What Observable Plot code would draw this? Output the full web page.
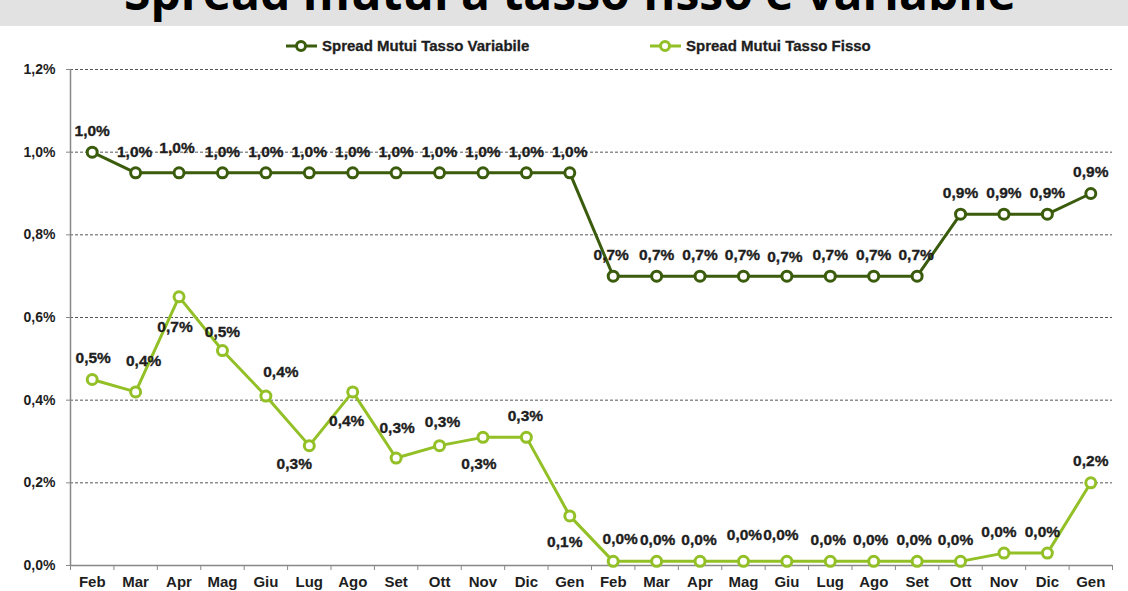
<!DOCTYPE html>
<html>
<head>
<meta charset="utf-8">
<script src="https://cdn.jsdelivr.net/npm/d3@7"></script>
<script src="https://cdn.jsdelivr.net/npm/@observablehq/plot@0.6"></script>
<style>
  body { margin: 0; background: #fff; width: 1128px; overflow: hidden; }
  svg { display: block; }
  .txt { font-family: "Liberation Sans", Arial, sans-serif; font-weight: bold; }
</style>
</head>
<body>
<div id="title"></div>
<div id="legend"></div>
<div id="chart"></div>
<script>
// ---- data ----
const months = ["Feb","Mar","Apr","Mag","Giu","Lug","Ago","Set","Ott","Nov","Dic","Gen",
                "Feb","Mar","Apr","Mag","Giu","Lug","Ago","Set","Ott","Nov","Dic","Gen"];
const variabile = [1.00,0.95,0.95,0.95,0.95,0.95,0.95,0.95,0.95,0.95,0.95,0.95,
                   0.70,0.70,0.70,0.70,0.70,0.70,0.70,0.70,0.85,0.85,0.85,0.90];
const fisso = [0.45,0.42,0.65,0.52,0.41,0.29,0.42,0.26,0.29,0.31,0.31,0.12,
               0.01,0.01,0.01,0.01,0.01,0.01,0.01,0.01,0.01,0.03,0.03,0.20];
const yTicks = [0, 0.2, 0.4, 0.6, 0.8, 1.0, 1.2];
const seriesNames = ["Spread Mutui Tasso Variabile", "Spread Mutui Tasso Fisso"];
const titleText = "Spread mutui a tasso fisso e variabile";

// label placement (pixel offsets from each point)
const varDx = [0,-1,-2,0,0,0,0,0,0,0,0,0, -2,0,0,-1,-2,0,0,-1,0,0,0,0];
const varDy = [-21,-21,-25,-21,-21,-21,-21,-21,-21,-21,-21,-21, -21,-21,-21,-21,-19,-21,-21,-21,-21,-21,-21,-21];
const fisDx = [1,8,-4,0,15,-15,-6,1,3,-4,-1,-5, 7,1,-1,1,-6,-2,-3,-3,-5,-5,-5,0];
const fisDy = [-21,-31,30,-19,-24,18,29,-30,-24,27,-21,26, -22,-21,-21,-26,-26,-21,-21,-21,-21,-21,-21,-22];

const darkGreen = "#3a5c0c";
const lightGreen = "#92c026";
const fmt = v => (Math.round(v * 10) / 10).toFixed(1).replace(".", ",") + "%";

// ---- title ----
const W = 1128;
d3.select("#title").append("svg").attr("width", W).attr("height", 26)
  .call(s => s.append("rect").attr("width", W).attr("height", 26).attr("fill", "#e2e2e2"))
  .append("text").attr("x", 570).attr("y", 10).attr("text-anchor", "middle")
  .attr("font-family", "'Open Sans', sans-serif").attr("font-weight", "bold")
  .attr("font-size", 48).attr("fill", "#000").text(titleText);

// ---- legend ----
const leg = d3.select("#legend").append("svg").attr("width", W).attr("height", 31);
[[301, darkGreen, seriesNames[0]], [665, lightGreen, seriesNames[1]]].forEach(([cx, c, name]) => {
  leg.append("line").attr("x1", cx - 15).attr("x2", cx + 16).attr("y1", 20).attr("y2", 20)
    .attr("stroke", c).attr("stroke-width", 3);
  leg.append("circle").attr("cx", cx).attr("cy", 20).attr("r", 4.5).attr("fill", "#fff")
    .attr("stroke", c).attr("stroke-width", 3);
  leg.append("text").attr("class", "txt").attr("x", cx + 21).attr("y", 25)
    .attr("font-size", 15).attr("fill", "#1e1e1e").attr("stroke", "#1e1e1e").attr("stroke-width", 0.3)
    .text(name);
});

// ---- chart ----
const varRows = variabile.map((v, i) => ({i, v, dx: varDx[i], dy: varDy[i]}));
const fisRows = fisso.map((v, i) => ({i, v, dx: fisDx[i], dy: fisDy[i]}));
const n = months.length;
const boundaries = d3.range(n + 1).map(i => i - 0.5);

const labelMarks = (rows) => rows.map(r => Plot.text([r], {
  x: "i", y: "v", text: d => fmt(d.v), dx: r.dx, dy: r.dy,
  fontSize: 15.5, fontWeight: "bold", fill: "#1e1e1e", stroke: "#1e1e1e", strokeWidth: 0.35
}));

const chart = Plot.plot({
  width: W,
  height: 534,
  marginTop: 12,
  marginBottom: 26,
  marginLeft: 70,
  marginRight: 16,
  style: {fontFamily: "'Liberation Sans', Arial, sans-serif", background: "#fff", overflow: "visible"},
  x: {type: "linear", domain: [-0.5, n - 0.5], axis: null},
  y: {domain: [0, 1.2], axis: null},
  marks: [
    Plot.ruleY(yTicks.filter(t => t > 0), {stroke: "#555", strokeDasharray: "3,2", strokeWidth: 1}),
    Plot.ruleX([-0.5], {y1: 0, y2: 1.2, stroke: "#888", strokeWidth: 1.5}),
    Plot.ruleY([0], {stroke: "#888", strokeWidth: 1.5}),
    Plot.axisY(yTicks, {label: null, tickSize: 4, tickPadding: 11, stroke: "#888", tickFormat: fmt,
      fontSize: 14, fontWeight: "bold", fill: "#1e1e1e"}),
    Plot.axisX(boundaries, {label: null, tickSize: 5, tickFormat: () => "", stroke: "#888"}),
    Plot.axisX(d3.range(n), {label: null, tickSize: 0, tickPadding: 11, tickFormat: i => months[i],
      fontSize: 15, fontWeight: "bold", fill: "#1e1e1e"}),
    Plot.line(varRows, {x: "i", y: "v", stroke: darkGreen, strokeWidth: 3}),
    Plot.line(fisRows, {x: "i", y: "v", stroke: lightGreen, strokeWidth: 3}),
    Plot.dot(varRows, {x: "i", y: "v", r: 5, stroke: darkGreen, strokeWidth: 3, fill: "#fff"}),
    Plot.dot(fisRows, {x: "i", y: "v", r: 5, stroke: lightGreen, strokeWidth: 3, fill: "#fff"}),
    ...labelMarks(varRows),
    ...labelMarks(fisRows)
  ]
});
document.getElementById("chart").appendChild(chart);
</script>
</body>
</html>
